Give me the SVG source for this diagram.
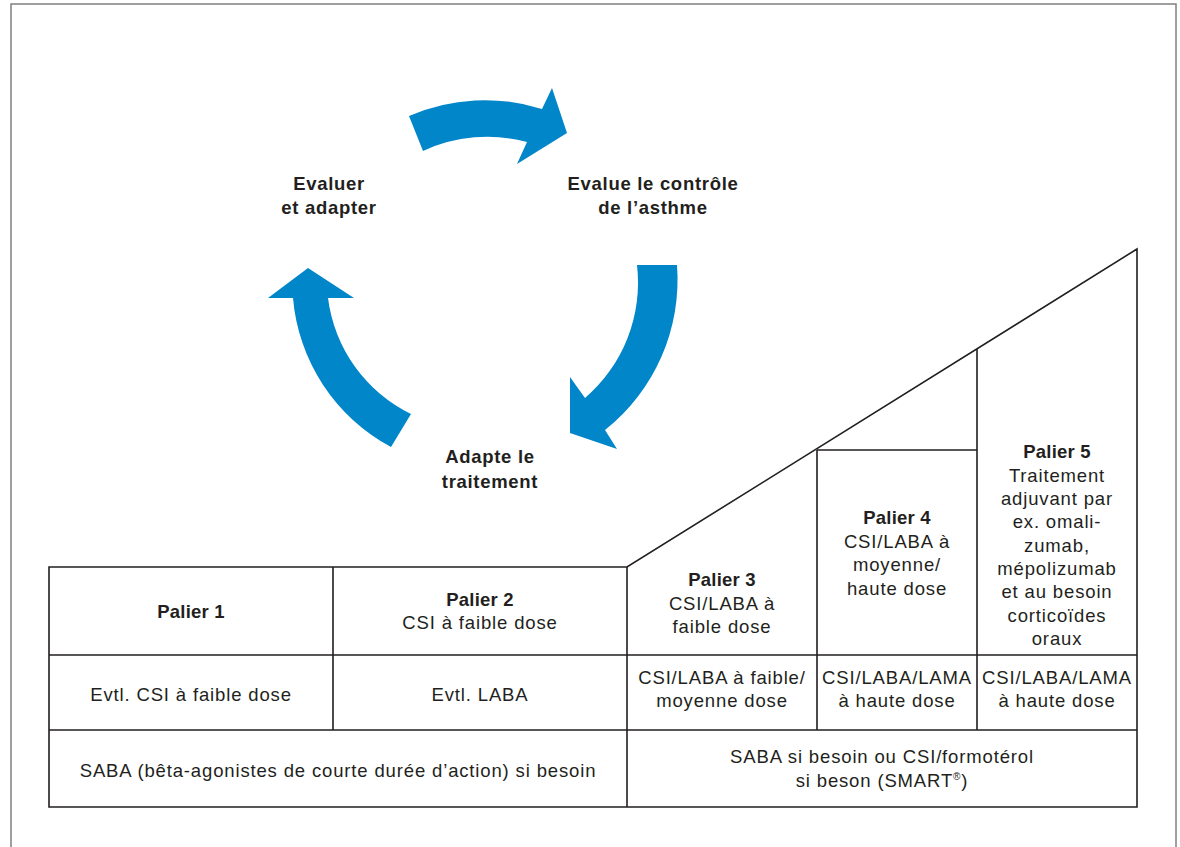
<svg xmlns="http://www.w3.org/2000/svg" width="1180" height="847" viewBox="0 0 1180 847">
<style>
.frame{fill:none;stroke:#808080;stroke-width:1.5}
.ln{fill:none;stroke:#231f20;stroke-width:1.6}
.arr{fill:#0086c9}
.t{font-family:"Liberation Sans",Arial,sans-serif;font-size:18.5px;fill:#231f20;text-anchor:middle;letter-spacing:0.85px}
.b{font-weight:bold;letter-spacing:0.2px}
.h{font-family:"Liberation Sans",Arial,sans-serif;font-size:18.5px;font-weight:bold;fill:#231f20;text-anchor:middle;letter-spacing:0.7px}
</style>
<rect class="frame" x="11" y="4" width="1165" height="900"/>
<g id="connectors">
<path class="arr" d="M409,116 A190,190 0 0 1 542,109 L552,88 L567,133 L517,164 L527,142 A153,153 0 0 0 423,151 Z"/>
<path class="arr" d="M677,265 A192,192 0 0 1 605,430 L617,449 L570,433 L570,377 L585,398 A152,152 0 0 0 637,265 Z"/>
<path class="arr" d="M391,447 A187,187 0 0 1 293,298 L268,298 L308,268 L354,298 L328,298 A150,150 0 0 0 411,414 Z"/>
</g>
<g id="node-evaluer">
<text class="h" x="329" y="190">Evaluer</text>
<text class="h" x="329" y="214">et adapter</text>
</g>
<g id="node-evalue">
<text class="h" x="653" y="190">Evalue le contrôle</text>
<text class="h" x="653" y="214">de l’asthme</text>
</g>
<g id="node-adapte">
<text class="h" x="490" y="463">Adapte le</text>
<text class="h" x="490" y="488">traitement</text>
</g>
<g id="table-lines">
<path class="ln" d="M49,567 H627 L1137,249 V807 H49 Z"/>
<path class="ln" d="M49,655 H1137 M49,730 H1137 M333,567 V730 M627,567 V807 M817,450 V730 M817,450 H977 M977,349 V730"/>
</g>
<g id="palier1">
<text class="t b" x="191" y="618">Palier 1</text>
<text class="t" x="191" y="701">Evtl. CSI à faible dose</text>
</g>
<g id="palier2">
<text class="t b" x="480" y="606">Palier 2</text>
<text class="t" x="480" y="629">CSI à faible dose</text>
<text class="t" x="480" y="701">Evtl. LABA</text>
</g>
<g id="palier3">
<text class="t b" x="722" y="586">Palier 3</text>
<text class="t" x="722" y="610">CSI/LABA à</text>
<text class="t" x="722" y="633">faible dose</text>
<text class="t" x="722" y="684">CSI/LABA à faible/</text>
<text class="t" x="722" y="707">moyenne dose</text>
</g>
<g id="palier4">
<text class="t b" x="897" y="524">Palier 4</text>
<text class="t" x="897" y="547.5">CSI/LABA à</text>
<text class="t" x="897" y="571">moyenne/</text>
<text class="t" x="897" y="594.5">haute dose</text>
<text class="t" x="897" y="684">CSI/LABA/LAMA</text>
<text class="t" x="897" y="707">à haute dose</text>
</g>
<g id="palier5">
<text class="t b" x="1057" y="458">Palier 5</text>
<text class="t" x="1057" y="481.5">Traitement</text>
<text class="t" x="1057" y="505">adjuvant par</text>
<text class="t" x="1057" y="528">ex. omali-</text>
<text class="t" x="1057" y="551.5">zumab,</text>
<text class="t" x="1057" y="575">mépolizumab</text>
<text class="t" x="1057" y="598">et au besoin</text>
<text class="t" x="1057" y="621.5">corticoïdes</text>
<text class="t" x="1057" y="645">oraux</text>
<text class="t" x="1057" y="684">CSI/LABA/LAMA</text>
<text class="t" x="1057" y="707">à haute dose</text>
</g>
<g id="reliever-left">
<text class="t" x="338" y="777">SABA (bêta-agonistes de courte durée d’action) si besoin</text>
</g>
<g id="reliever-right">
<text class="t" x="882" y="763">SABA si besoin ou CSI/formotérol</text>
<text class="t" x="882" y="787">si beson (SMART<tspan font-size="10" dy="-7">®</tspan><tspan dy="7">)</tspan></text>
</g>
</svg>
